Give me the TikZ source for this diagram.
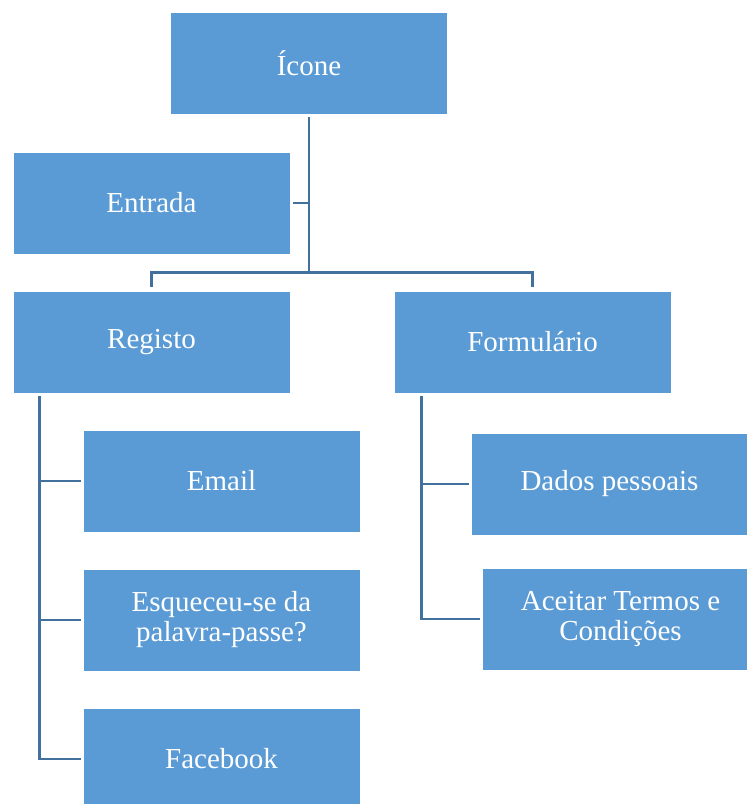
\documentclass[tikz,border=0pt]{standalone}
\usepackage{fontspec}
\setmainfont{Liberation Serif}
\usepackage{tikz}
\usetikzlibrary{calc}
\definecolor{boxblue}{HTML}{5B9BD5}
\definecolor{lineblue}{HTML}{41719C}
\tikzset{
    box/.style={fill=boxblue, draw=white, line width=0.6pt, minimum width=277pt, minimum height=102pt, inner sep=0pt, text=white, align=center, font=\fontsize{29}{30}\selectfont},
    conn/.style={draw=lineblue, line width=2.9pt}
}

\begin{document}
\begin{tikzpicture}[x=1pt,y=1pt]
\useasboundingbox (0,0) rectangle (747,-804);
\foreach \x/\y/\p/\t in {309/63/icone/{Ícone}, 151.5/203/entrada/{Entrada}, 151.5/342/registo/{Registo}, 532.5/342/formulario/{Formulário}, 221.5/481/email/{Email}, 221.5/620/esqueceu/{Esqueceu-se da\\palavra-passe?}, 221.5/759/facebook/{Facebook}, 609.5/484/dados/{Dados pessoais}, 620.5/619/aceitar/{Aceitar Termos e\\Condições}}{
    \node[box] (\p) at (\x,-\y) {\t};
}
% top level
\coordinate (hub) at ($(icone.south)+(0,-158)$);
\draw[conn] ([yshift=-3pt]icone.south) -- (hub);
\draw[conn] ([xshift=3pt]entrada.east) -- (entrada.east -| icone.south);
\draw[conn] ([yshift=4pt]registo.north) |- (hub) -| ([yshift=4pt]formulario.north);
% Registo
\coordinate (rtrunk) at ($(registo.south west)+(27,-3)$);
\draw[conn] (rtrunk) |- ([xshift=-2pt]facebook.west);
\foreach \p in {email,esqueceu}{
    \draw[conn] (rtrunk |- \p.west) -- ([xshift=-2pt]\p.west);
}
% Formulario
\coordinate (ftrunk) at ($(formulario.south west)+(28,-3)$);
\draw[conn] (ftrunk) |- ([xshift=-2pt]aceitar.west);
\draw[conn] (ftrunk |- dados.west) -- ([xshift=-2pt]dados.west);
\end{tikzpicture}
\end{document}
